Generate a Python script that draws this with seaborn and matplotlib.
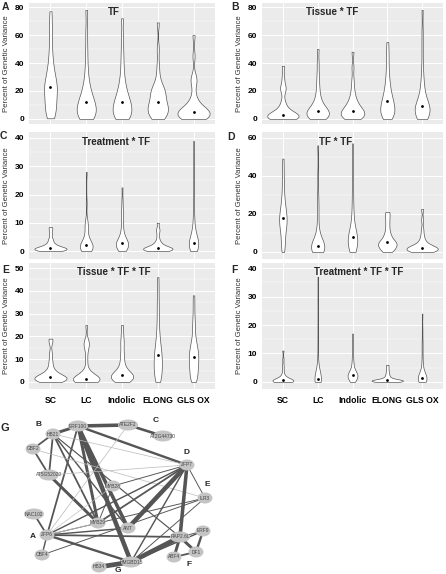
import numpy as np
import pandas as pd
import matplotlib
matplotlib.use('Agg')
import matplotlib.pyplot as plt
from matplotlib.patches import Ellipse
from matplotlib.ticker import MultipleLocator
import seaborn as sns
import warnings
warnings.filterwarnings('ignore')

# ── Data: percent of genetic variance per TF model term ─────────────────────
groups = ['SC', 'LC', 'Indolic', 'ELONG', 'GLS OX']

tf_vals = {
    'SC':      [0.5, 2, 4, 6, 8, 10, 12, 14, 16, 18, 20, 22, 23, 24, 26, 28, 30, 33, 36, 40, 45, 52, 60, 68, 77],
    'LC':      [0, 0.5, 1, 2, 3, 4, 5, 6, 7, 8, 9, 10, 12, 13, 14, 16, 18, 20, 23, 27, 32, 40, 50, 62, 78],
    'Indolic': [0, 0.5, 1, 2, 3, 4, 5, 6, 8, 9, 10, 11, 12, 13, 15, 17, 19, 21, 24, 28, 33, 40, 48, 58, 72],
    'ELONG':   [0, 1, 2, 3, 4, 5, 6, 7, 8, 9, 10, 11, 12, 14, 16, 18, 19, 20, 21, 22, 25, 30, 38, 50, 69],
    'GLS OX':  [0, 0.3, 0.6, 1, 1.5, 2, 2.5, 3, 3.5, 4, 4.5, 5, 5, 5.5, 6, 7, 8, 9, 11, 14, 18, 26, 28, 30, 45, 60],
}
tissue_tf_vals = {
    'SC':      [0, 0.2, 0.4, 0.6, 0.8, 1, 1.3, 1.6, 2, 2.3, 2.6, 2.8, 3, 3.5, 4, 5, 6, 8, 10, 13, 20, 22, 24, 30, 38],
    'LC':      [0, 0.5, 1, 1.5, 2, 2.5, 3, 3.5, 4, 4.5, 5, 5.5, 6, 7, 8, 9, 10, 12, 14, 17, 21, 26, 32, 40, 50],
    'Indolic': [0, 0.5, 1, 1.5, 2, 2.5, 3, 3.5, 4, 4.5, 5, 5.5, 6, 7, 8, 9, 10, 11, 13, 15, 18, 22, 28, 37, 48],
    'ELONG':   [0, 1, 2, 3, 4, 5, 6, 7, 8, 9, 10, 11, 13, 14, 15, 17, 19, 21, 24, 27, 31, 36, 42, 48, 55],
    'GLS OX':  [0, 0.5, 1, 2, 3, 4, 5, 6, 7, 7.5, 8, 8.5, 9, 10, 11, 13, 15, 18, 21, 25, 30, 38, 50, 62, 78],
}
treat_tf_vals = {
    'SC':      [0, 0.1, 0.2, 0.3, 0.4, 0.5, 0.6, 0.7, 0.8, 0.9, 1, 1, 1, 1.2, 1.4, 1.6, 1.8, 2.1, 2.5, 3, 3.8, 4.5, 6, 7.5, 8.5],
    'LC':      [0, 0.2, 0.4, 0.6, 0.8, 1, 1.2, 1.4, 1.6, 1.8, 1.9, 2, 2, 2.5, 3, 3.5, 4, 5, 6, 8, 9, 9.5, 11, 17, 28],
    'Indolic': [0, 0.3, 0.6, 1, 1.3, 1.6, 2, 2.2, 2.4, 2.6, 2.8, 3, 3, 3.4, 3.8, 4.2, 5, 6, 7, 9, 11, 13, 15, 18, 22.5],
    'ELONG':   [0, 0.1, 0.2, 0.3, 0.4, 0.5, 0.6, 0.7, 0.8, 0.9, 1, 1, 1, 1.2, 1.4, 1.6, 1.9, 2.2, 2.6, 3.2, 4, 5.5, 7, 8, 10],
    'GLS OX':  [0, 0.3, 0.6, 1, 1.3, 1.6, 2, 2.2, 2.5, 2.7, 2.9, 3, 3, 3.5, 4, 4.5, 5, 6, 7, 9, 11, 14, 19, 27, 39],
}
tf_tf_vals = {
    'SC':      [0, 2, 4, 6, 8, 10, 12, 13, 14, 15, 16, 17, 18, 19, 20, 21, 22, 24, 26, 28, 31, 35, 39, 44, 49],
    'LC':      [0, 0.3, 0.6, 1, 1.3, 1.6, 2, 2.3, 2.6, 2.8, 3, 3, 3, 3.5, 4, 5, 6, 8, 10, 14, 20, 24, 30, 40, 56],
    'Indolic': [0, 0.5, 1, 2, 3, 4, 5, 5.5, 6, 6.5, 7, 7.5, 8, 9, 10, 11, 13, 15, 18, 22, 27, 33, 40, 48, 57],
    'ELONG':   [0, 0.5, 1, 1.5, 2, 2.5, 3, 3.5, 4, 4.3, 4.6, 4.8, 5, 5.5, 6, 7, 8, 9, 10, 12, 14, 16, 18, 20, 21],
    'GLS OX':  [0, 0.2, 0.4, 0.6, 0.8, 1, 1.2, 1.4, 1.6, 1.7, 1.8, 1.9, 2, 2.2, 2.5, 2.8, 3.2, 3.8, 4.5, 5.5, 7, 9, 12, 17, 22.5],
}
tissue_tf_tf_vals = {
    'SC':      [0, 0.2, 0.4, 0.6, 0.8, 1, 1.2, 1.4, 1.6, 1.8, 1.9, 2, 2, 2.3, 2.6, 3, 3.5, 4, 5, 6, 8, 10, 13, 17.5, 19],
    'LC':      [0, 0.1, 0.2, 0.4, 0.6, 0.8, 1, 1.1, 1.2, 1.3, 1.4, 1.5, 1.5, 1.7, 2, 2.5, 3, 4, 6, 10, 14, 16.5, 17, 18, 25],
    'Indolic': [0, 0.3, 0.6, 1, 1.3, 1.6, 2, 2.3, 2.6, 2.8, 2.9, 3, 3, 3.5, 4, 5, 6, 7, 9, 11, 13, 16, 18, 21, 25],
    'ELONG':   [0, 1, 2, 3, 4, 5, 6, 7, 8, 9, 10, 11, 12, 13, 14, 15, 17, 19, 21, 24, 28, 32, 36, 41, 46],
    'GLS OX':  [0, 1, 2, 3, 4, 5, 6, 7, 8, 9, 10, 10.5, 11, 12, 13, 14, 15, 16, 17, 19, 22, 25, 28, 33, 38],
}
treat_tf_tf_vals = {
    'SC':      [0, 0.05, 0.1, 0.15, 0.2, 0.25, 0.3, 0.35, 0.4, 0.45, 0.5, 0.5, 0.5, 0.6, 0.7, 0.8, 1, 1.3, 1.7, 2.2, 3, 4.5, 6, 8, 11],
    'LC':      [0, 0.1, 0.2, 0.3, 0.4, 0.5, 0.6, 0.7, 0.8, 0.9, 1, 1, 1, 1.3, 1.6, 2, 2.5, 3, 4, 6, 9, 14, 20, 28, 37],
    'Indolic': [0, 0.3, 0.6, 0.9, 1.2, 1.5, 1.8, 2, 2.2, 2.3, 2.4, 2.5, 2.5, 2.8, 3.1, 3.5, 4, 4.5, 5.5, 6.5, 8, 10, 12, 14, 17],
    'ELONG':   [0, 0.05, 0.1, 0.15, 0.2, 0.25, 0.3, 0.35, 0.4, 0.45, 0.5, 0.5, 0.5, 0.6, 0.7, 0.8, 1, 1.2, 1.5, 2, 2.5, 3.2, 4, 5, 6],
    'GLS OX':  [0, 0.1, 0.3, 0.5, 0.7, 0.9, 1, 1.1, 1.2, 1.3, 1.4, 1.5, 1.5, 1.8, 2.1, 2.5, 3, 4, 5, 7, 9, 12, 14, 18, 24],
}

panels = [
    # letter, title, values, y max tick, y step, ylim, title x (category units)
    ('A', 'TF',                   tf_vals,           80, 20, (-3.6, 82.9), 1.77),
    ('B', 'Tissue * TF',          tissue_tf_vals,    80, 20, (-3.6, 82.9), 1.42),
    ('C', 'Treatment * TF',       treat_tf_vals,     40, 10, (-2.8, 42.1), 1.83),
    ('D', 'TF * TF',              tf_tf_vals,        60, 20, (-3.7, 63.0), 1.50),
    ('E', 'Tissue * TF * TF',     tissue_tf_tf_vals, 50, 10, (-3.1, 52.2), 1.77),
    ('F', 'Treatment * TF * TF',  treat_tf_tf_vals,  40, 10, (-2.5, 41.8), 2.18),
]

# ── Network (panel G): node layout and edges ────────────────────────────────
node_names = ['HB21', 'ERF100', 'ATE2F2', 'AT2G44730', 'GBF2', 'AT5G52020', 'MYB28',
              'ZFP7', 'ILR3', 'NAC102', 'MYB29', 'ANT', 'ZFP6', 'RAP2.6L', 'ERF9',
              'OBF4', 'DF1', 'ABF4', 'HB34', 'HMGBD15']
node_x = [53, 78, 128, 163, 33, 49, 113, 187, 205, 34, 98, 128, 47, 180, 203, 42, 196, 174, 99, 131]
node_y = [434, 426, 425, 436, 449, 475, 486, 465, 498, 514, 523, 528, 535, 537, 531, 555, 552, 557, 567, 562]

edge_a = ['ERF100', 'ATE2F2', 'HB21', 'HB21', 'HB21', 'GBF2', 'ERF100', 'ERF100', 'ERF100', 'ERF100',
          'ERF100', 'HB21', 'HB21', 'HB21', 'AT5G52020', 'GBF2', 'HB21', 'ATE2F2', 'ZFP7', 'ZFP7',
          'ZFP7', 'ZFP7', 'ZFP7', 'ZFP7', 'ZFP7', 'ZFP7', 'ILR3', 'ILR3', 'ILR3', 'ZFP6',
          'ZFP6', 'ZFP6', 'ZFP6', 'ZFP6', 'ZFP6', 'ZFP6', 'MYB28', 'HMGBD15', 'HMGBD15', 'HMGBD15',
          'RAP2.6L', 'RAP2.6L', 'RAP2.6L', 'ERF9', 'ABF4']
edge_b = ['ATE2F2', 'AT2G44730', 'ERF100', 'GBF2', 'AT5G52020', 'AT5G52020', 'ZFP7', 'HMGBD15', 'MYB29', 'ZFP6',
          'ANT', 'MYB29', 'ANT', 'RAP2.6L', 'MYB29', 'ILR3', 'ZFP7', 'ZFP6', 'ZFP6', 'MYB29',
          'ANT', 'HMGBD15', 'RAP2.6L', 'ILR3', 'AT5G52020', 'MYB28', 'ZFP6', 'OBF4', 'HMGBD15', 'NAC102',
          'OBF4', 'RAP2.6L', 'HMGBD15', 'MYB29', 'MYB28', 'ANT', 'MYB29', 'RAP2.6L', 'HB34', 'ERF9',
          'ERF9', 'DF1', 'ABF4', 'DF1', 'DF1']
edge_w = [3.0, 2.2, 2.5, 1.5, 1.5, 1.5, 2.0, 3.8, 2.5, 1.5,
          3.0, 1.5, 1.2, 1.0, 2.5, 0.6, 0.6, 0.6, 1.2, 1.5,
          3.8, 1.2, 3.0, 0.8, 0.6, 0.8, 0.8, 0.8, 0.8, 1.5,
          1.2, 1.5, 2.0, 0.6, 0.5, 1.2, 0.8, 4.0, 4.0, 1.2,
          0.8, 2.5, 2.5, 2.0, 1.5]

module_labels = ['A', 'B', 'C', 'D', 'E', 'F', 'G']
module_x = [33, 39, 156, 187, 207, 189, 118]
module_y = [537, 425, 421, 453, 485, 564, 570]

# ── Style ────────────────────────────────────────────────────────────────────
sns.set_theme(style='darkgrid')
plt.rcParams['font.family'] = ['Liberation Sans', 'DejaVu Sans']

W, H = 446, 574
fig = plt.figure(figsize=(W / 100, H / 100), dpi=100)
fig.patch.set_facecolor('white')

col_x = [(29, 215), (262, 443)]
row_y = [(3, 124), (132, 259), (263, 389)]
letter_pos = [(2, 7), (231, 7), (0, 136), (227, 137), (2, 270), (231, 270)]

for i, (letter, title, vals, ymax, ystep, ylim, tx) in enumerate(panels):
    r, c = divmod(i, 2)
    x0, x1 = col_x[c]
    y0, y1 = row_y[r]
    ax = fig.add_axes([x0 / W, 1 - y1 / H, (x1 - x0) / W, (y1 - y0) / H])

    long = pd.DataFrame([(g, v) for g in groups for v in vals[g]], columns=['group', 'value'])
    sns.violinplot(data=long, x='group', y='value', order=groups, ax=ax,
                   color='white', saturation=1, linecolor='#555555', linewidth=0.5,
                   inner=None, cut=0, density_norm='area', width=0.9, bw_adjust=0.55)
    sns.pointplot(data=long, x='group', y='value', order=groups, ax=ax,
                  estimator='median', errorbar=None, color='black',
                  linestyle='none', marker='o', markersize=2.0, markeredgewidth=0)

    ax.set_facecolor('#EBEBEB')
    ax.set_xlim(-0.6, 4.6)
    ax.set_ylim(*ylim)
    ax.set_yticks(np.arange(0, ymax + 1, ystep))
    ax.yaxis.set_minor_locator(MultipleLocator(ystep / 2))
    ax.set_axisbelow(True)
    ax.grid(which='major', color='white', linewidth=0.7)
    ax.grid(which='minor', axis='y', color='white', linewidth=0.35)
    for s in ax.spines.values():
        s.set_visible(False)
    ax.tick_params(axis='both', which='major', length=2, width=0.5, color='#333333',
                   pad=1.5, labelsize=6, labelcolor='black')
    ax.tick_params(axis='both', which='minor', length=0)
    for lab in ax.get_yticklabels():
        lab.set_fontweight('bold')
    ax.set_xlabel('')
    ax.set_ylabel('Percent of Genetic Variance', fontsize=5.6, color='#333333', labelpad=3)
    if r < 2:
        ax.set_xticklabels([])
    else:
        for lab in ax.get_xticklabels():
            lab.set_fontweight('bold')
            lab.set_fontsize(6.2)
        ax.tick_params(axis='x', pad=3)

    ax.text(tx, 0.925, title, transform=ax.get_xaxis_transform(),
            ha='center', va='center', fontsize=7, fontweight='bold')
    fig.text(letter_pos[i][0] / W, 1 - letter_pos[i][1] / H, letter,
             ha='left', va='center', fontsize=7.5, fontweight='bold')

# ── Panel G: co-expression network ──────────────────────────────────────────
axg = fig.add_axes([0, 0, 1, 169 / H])
axg.set_xlim(0, W)
axg.set_ylim(574, 405)
axg.axis('off')

pos = {n: (x, y) for n, x, y in zip(node_names, node_x, node_y)}
for a, b, w in zip(edge_a, edge_b, edge_w):
    (xa, ya), (xb, yb) = pos[a], pos[b]
    col = '#BBBBBB' if w <= 0.6 else '#555555'
    axg.plot([xa, xb], [ya, yb], color=col, linewidth=w * 0.85,
             solid_capstyle='round', zorder=1)

for n, x, y in zip(node_names, node_x, node_y):
    wd = 20 if len(n) > 5 else 15
    axg.add_patch(Ellipse((x, y), wd, 11, facecolor='#C4C4C4', edgecolor='none', zorder=2))
    axg.text(x, y, n, ha='center', va='center', fontsize=3.5, color='#444444', zorder=3)

for lab, x, y in zip(module_labels, module_x, module_y):
    axg.text(x, y, lab, ha='center', va='center', fontsize=6, fontweight='bold', zorder=3)
fig.text(5 / W, 1 - 428 / H, 'G', ha='center', va='center', fontsize=8, fontweight='bold')

fig.savefig('out.png', dpi=100, facecolor='white')
